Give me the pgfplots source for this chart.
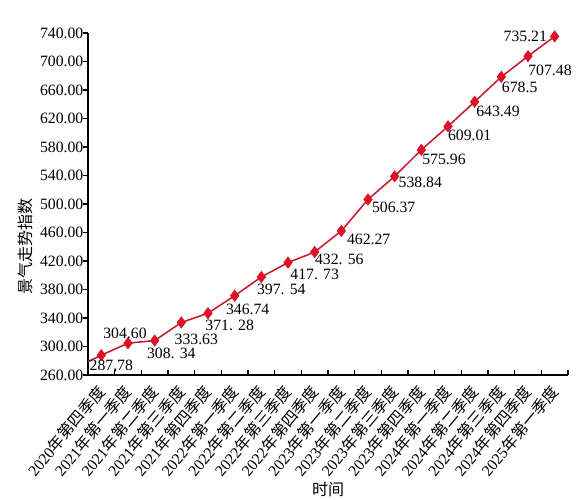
\documentclass[border=0pt]{standalone}
\usepackage{pgfplots}
\pgfplotsset{compat=1.18}
\usepackage{pgfplotstable}
\usepackage{fontspec}
\setmainfont{Liberation Serif}
\newfontfamily\cjk{Noto Sans CJK SC}
\definecolor{lred}{RGB}{196,26,44}
\definecolor{mred}{RGB}{220,18,38}

\pgfplotstableread[col sep=semicolon]{
x;y;lab;dx;dy
0;287.78;287,78;7.5;-8.25
1;304.60;304.60;-2.25;7.75
2;308.34;308. 34;12.5;-9.5
3;333.63;333.63;11.25;-12.5
4;346.74;371. 28;16.25;-9.25
5;371.28;346.74;9.75;-10.5
6;397.54;397. 54;15;-9.25
7;417.73;417. 73;20;-8.75
8;432.56;432. 56;18.5;-5.75
9;462.27;462.27;20.5;-6.75
10;506.37;506.37;19.25;-6.25
11;538.84;538.84;19.25;-4.5
12;575.96;575.96;17;-7.5
13;609.01;609.01;16.25;-6.75
14;643.49;643.49;17.5;-7.5
15;678.5;678.5;13.75;-8
16;707.48;707.48;16.5;-10.5
17;735.21;735.21;-22;0
}\datatable

\begin{document}
\begin{tikzpicture}
\begin{axis}[
  scale only axis,
  width=360pt, height=256.5pt,
  xmin=-0.5, xmax=17.5,
  ymin=260, ymax=740,
  axis lines=left,
  axis line style={-, line width=1pt, black},
  tick align=inside,
  major tick length=4pt,
  tick style={black, line width=0.9pt},
  ytick style={xshift=-4pt},
  ytick={260,300,...,740},
  xtick={0.5,1.5,...,17.5},
  xticklabels={
    2020{\cjk 年第四季度},
    2021{\cjk 年第一季度},
    2021{\cjk 年第二季度},
    2021{\cjk 年第三季度},
    2021{\cjk 年第四季度},
    2022{\cjk 年第一季度},
    2022{\cjk 年第二季度},
    2022{\cjk 年第三季度},
    2022{\cjk 年第四季度},
    2023{\cjk 年第一季度},
    2023{\cjk 年第二季度},
    2023{\cjk 年第三季度},
    2023{\cjk 年第四季度},
    2024{\cjk 年第一季度},
    2024{\cjk 年第二季度},
    2024{\cjk 年第三季度},
    2024{\cjk 年第四季度},
    2025{\cjk 年第一季度}},
  x tick label style={xshift=-9pt, yshift=-9.5pt, rotate=50, anchor=east, font=\fontsize{11.8}{13}\selectfont, inner sep=1pt},
  y tick label style={font=\fontsize{11.8}{13}\selectfont},
  /pgf/number format/assume math mode=true,
  yticklabel style={/pgf/number format/.cd, fixed, fixed zerofill, precision=2},
  xlabel={{\cjk 时间}},
  ylabel={{\cjk 景气走势指数}},
  every axis x label/.style={at={(rel axis cs:0.5,0)}, yshift=-85.5pt, anchor=center, font=\fontsize{12}{14}\selectfont},
  every axis y label/.style={at={(rel axis cs:0,0.377)}, xshift=-47.25pt, rotate=90, anchor=center, font=\fontsize{12}{14}\selectfont},
  clip=false,
]
\addplot[color=lred, line width=1.15pt, forget plot] coordinates {(-0.5,278.7) (0,287.78)};
\addplot[color=lred, line width=1.15pt, mark=diamond*, mark size=4.2pt,
  mark options={fill=mred, draw=mred, solid, line width=0.5pt},
  nodes near coords, point meta=explicit symbolic,
  visualization depends on={\thisrow{dx} \as \dx},
  visualization depends on={\thisrow{dy} \as \dy},
  nodes near coords style={anchor=center, xshift=\dx pt, yshift=\dy pt, font=\fontsize{11.8}{13}\selectfont, text=black}]
  table[x=x, y=y, meta=lab]{\datatable};
\coordinate (bl) at (rel axis cs:0,0);
\coordinate (tr) at (rel axis cs:1,1);
\end{axis}
\pgfresetboundingbox
\path[use as bounding box] ([shift={(-66pt,-93.75pt)}]bl) rectangle ([shift={(7.5pt,24.75pt)}]tr);
\end{tikzpicture}
\end{document}
